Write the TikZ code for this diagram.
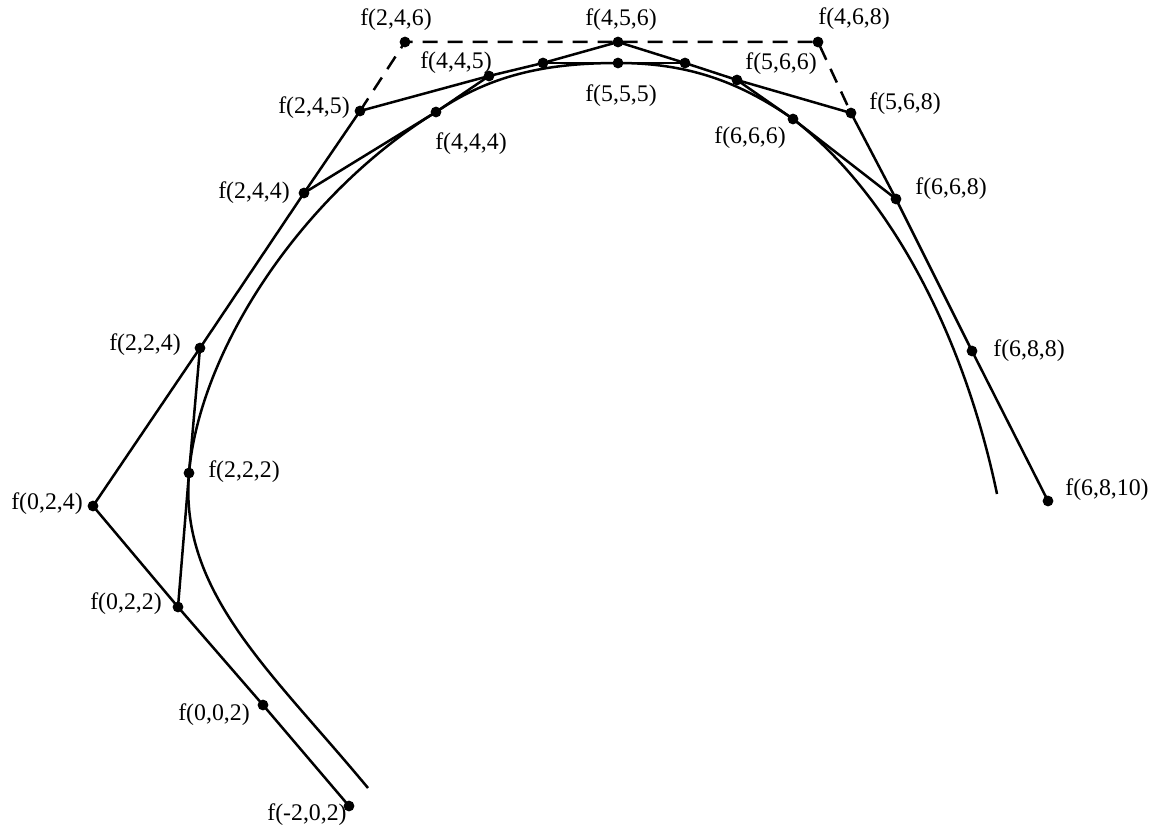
\documentclass[tikz,border=0pt]{standalone}
\usepackage{fontspec}
\setmainfont{Liberation Serif}
\begin{document}
\begin{tikzpicture}[x=0.5pt,y=-0.5pt,
  dot/.style={circle,fill=black,inner sep=0pt,minimum size=5.4pt},
  lbl/.style={inner sep=0pt,font=\fontsize{11.9}{14}\selectfont},
  edge/.style={line width=1.25pt,line join=round},
  dashedge/.style={line width=1.25pt,dash pattern=on 7.5pt off 5pt}]
\useasboundingbox (0,0) rectangle (1154,829);
% points
\node[dot] (d0) at (349,806) {};
\node[dot] (p002) at (263,705) {};
\node[dot] (p022) at (178,607) {};
\node[dot] (d1) at (93,506) {};
\node[dot] (p222) at (189,473) {};
\node[dot] (p224) at (200,348) {};
\node[dot] (p244) at (304,193) {};
\node[dot] (p245) at (360,111) {};
\node[dot] (d2) at (405,42) {};
\node[dot] (p444) at (436,112) {};
\node[dot] (p445) at (489,76) {};
\node[dot] (p455) at (543,63) {};
\node[dot] (p456) at (618,42) {};
\node[dot] (p555) at (618,63) {};
\node[dot] (p556) at (685,63) {};
\node[dot] (p566) at (737,80) {};
\node[dot] (p666) at (793,119) {};
\node[dot] (d3) at (818,42) {};
\node[dot] (p568) at (851,113) {};
\node[dot] (p668) at (896,199) {};
\node[dot] (p688) at (972,351) {};
\node[dot] (d4) at (1048,501) {};
\coordinate (cs) at (368,788);
\coordinate (ce) at (997,494);
% control polygon
\draw[edge] (d0.center) -- (p002.center) -- (p022.center) -- (d1.center) -- (p224.center) -- (p244.center) -- (p245.center);
\draw[dashedge] (p245.center) -- (d2.center) -- (d3.center) -- (p568.center);
\draw[edge] (p568.center) -- (p668.center) -- (p688.center) -- (d4.center);
% second level
\draw[edge] (p022.center) -- (p222.center) -- (p224.center);
\draw[edge] (p244.center) -- (p444.center) -- (p445.center);
\draw[edge] (p245.center) -- (p445.center) -- (p455.center) -- (p456.center);
\draw[edge] (p456.center) -- (p556.center) -- (p566.center) -- (p568.center);
\draw[edge] (p566.center) -- (p666.center) -- (p668.center);
% third level
\draw[edge] (p455.center) -- (p555.center) -- (p556.center);
% curve
\draw[edge] (cs) .. controls (272,672) and (179,593) .. (p222.center)
  .. controls (p224.center) and (p244.center) .. (p444.center)
  .. controls (p445.center) and (p455.center) .. (p555.center)
  .. controls (p556.center) and (p566.center) .. (p666.center)
  .. controls (p668.center) and (966,345) .. (ce);
% labels
\node[lbl] (ld0) at (307,815) {f(-2,0,2)};
\node[lbl] (l002) at (214,715) {f(0,0,2)};
\node[lbl] (l022) at (126,604) {f(0,2,2)};
\node[lbl] (ld1) at (47,504) {f(0,2,4)};
\node[lbl] (l222) at (244,472) {f(2,2,2)};
\node[lbl] (l224) at (145,345) {f(2,2,4)};
\node[lbl] (l244) at (254,193) {f(2,4,4)};
\node[lbl] (l245) at (314,108) {f(2,4,5)};
\node[lbl] (ld2) at (396,20) {f(2,4,6)};
\node[lbl] (l444) at (471,144) {f(4,4,4)};
\node[lbl] (l445) at (456,63) {f(4,4,5)};
\node[lbl] (l456) at (621,20) {f(4,5,6)};
\node[lbl] (l555) at (621,96) {f(5,5,5)};
\node[lbl] (l566) at (781,64) {f(5,6,6)};
\node[lbl] (l666) at (750,138) {f(6,6,6)};
\node[lbl] (ld3) at (854,19) {f(4,6,8)};
\node[lbl] (l568) at (905,104) {f(5,6,8)};
\node[lbl] (l668) at (951,189) {f(6,6,8)};
\node[lbl] (l688) at (1029,351) {f(6,8,8)};
\node[lbl] (ld4) at (1107,490) {f(6,8,10)};
\end{tikzpicture}
\end{document}
